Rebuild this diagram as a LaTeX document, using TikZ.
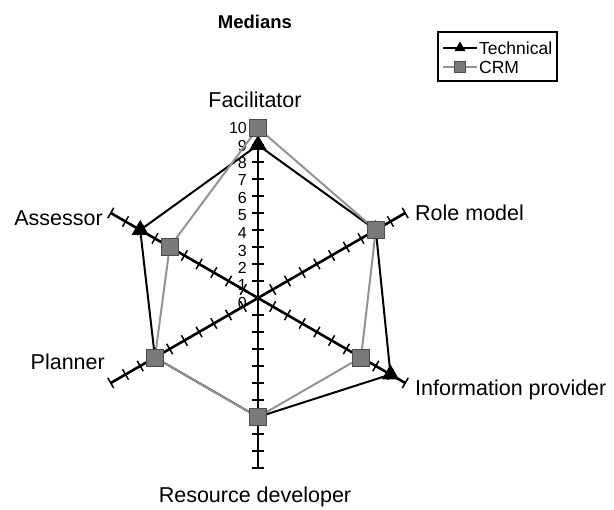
\documentclass[tikz,border=0pt]{standalone}
\usepackage{fontspec}
\setmainfont{Liberation Sans}
\usetikzlibrary{shapes.geometric}
\tikzstyle{spoke} = [line width=2.6pt, black]
\tikzstyle{tick} = [line width=1.5pt, black]
\tikzstyle{tech} = [line width=2pt, black]
\tikzstyle{crm} = [line width=2pt, gray!85]
\tikzstyle{tmark} = [regular polygon, regular polygon sides=3, fill=black, inner sep=0pt, minimum size=20pt]
\tikzstyle{cmark} = [rectangle, fill=gray!95!black, draw=gray!60!black, line width=0.6pt, inner sep=0pt, minimum size=17pt]
\tikzstyle{lbl} = [inner sep=0pt, font=\fontsize{21.5}{23}\selectfont]
\tikzstyle{num} = [inner sep=0pt, font=\fontsize{16}{16}\selectfont, anchor=east]

\begin{document}
\begin{tikzpicture}[x=1pt, y=1pt]
	\useasboundingbox (-258,298) rectangle (356,-212);

	% spokes
	\coordinate (o) at (0,0);
	\coordinate (a1) at (90:170);
	\coordinate (a2) at (30:170);
	\coordinate (a3) at (-30:170);
	\coordinate (a4) at (-90:170);
	\coordinate (a5) at (210:170);
	\coordinate (a6) at (150:170);
	\foreach \i in {1,...,6} \draw[spoke] (o) -- (a\i);
	\foreach \a in {90,30,-30,-90,210,150}
		\foreach \k in {1,...,10}
			\draw[tick] ([shift={(\a:17*\k)}]{\a+90}:6) -- ([shift={(\a:17*\k)}]{\a-90}:6);

	% scale
	\foreach \k in {0,...,10}
		\node[num] (s\k) at (-11, 17.5*\k-5) {\k};

	% Technical
	\coordinate (t1) at (90:153);
	\coordinate (t2) at (30:136);
	\coordinate (t3) at (-30:153);
	\coordinate (t4) at (-90:119);
	\coordinate (t5) at (210:119);
	\coordinate (t6) at (150:136);
	\draw[tech] (t1) -- (t2) -- (t3) -- (t4) -- (t5) -- (t6) -- cycle;

	% CRM
	\coordinate (c1) at (90:170);
	\coordinate (c2) at (30:136);
	\coordinate (c3) at (-30:119);
	\coordinate (c4) at (-90:119);
	\coordinate (c5) at (210:119);
	\coordinate (c6) at (150:102);
	\draw[crm] (c1) -- (c2) -- (c3) -- (c4) -- (c5) -- (c6) -- cycle;

	\foreach \i in {1,...,6} \node[tmark] (tm\i) at (t\i) {};
	\foreach \i in {1,...,6} \node[cmark] (cm\i) at (c\i) {};

	% labels
	\node[lbl] (fac) at (-3,198) {Facilitator};
	\node[lbl, anchor=west] (role) at (157,85) {Role model};
	\node[lbl, anchor=west] (info) at (157,-92) {Information provider};
	\node[lbl] (res) at (-3,-199) {Resource developer};
	\node[lbl, anchor=east] (plan) at (-153,-64) {Planner};
	\node[lbl, anchor=east] (assr) at (-155,80) {Assessor};

	\node[lbl, font=\fontsize{18.5}{20}\selectfont\bfseries] (title) at (-3,276) {Medians};

	% legend
	\draw[line width=1.2pt] (180,266) rectangle (299,217);
	\coordinate (l1a) at (185,250);
	\coordinate (l1b) at (219,250);
	\coordinate (l2a) at (185,231);
	\coordinate (l2b) at (219,231);
	\draw[tech] (l1a) -- (l1b);
	\draw[crm] (l2a) -- (l2b);
	\node[tmark, minimum size=13pt] (lt) at (202,250) {};
	\node[cmark, minimum size=11pt] (lc) at (202,231) {};
	\node[lbl, anchor=west, font=\fontsize{17.5}{19}\selectfont] (ltech) at (221,250) {Technical};
	\node[lbl, anchor=west, font=\fontsize{17.5}{19}\selectfont] (lcrm) at (221,231) {CRM};
\end{tikzpicture}
\end{document}
